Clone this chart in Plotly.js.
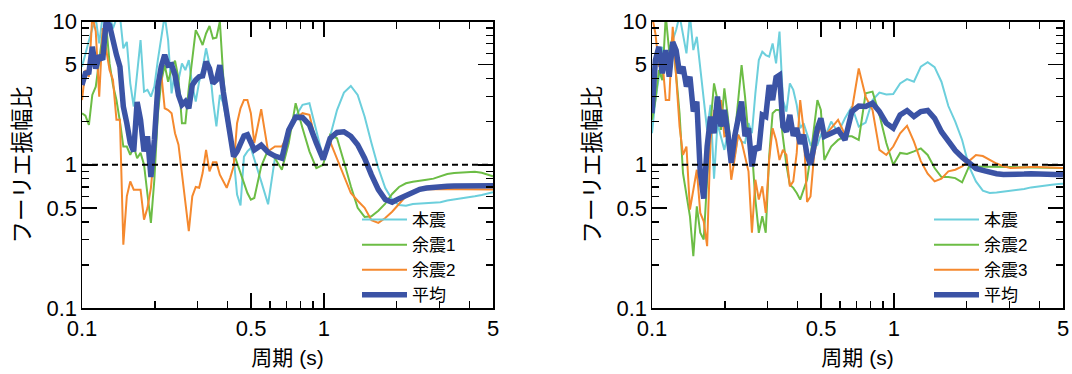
<!DOCTYPE html>
<html>
<head>
<meta charset="utf-8">
<script src="https://cdn.plot.ly/plotly-3.0.1.min.js"></script>
<style>html,body{margin:0;padding:0;background:#fff;}#chart{width:1072px;height:374px;}</style>
</head>
<body>
<div id="chart"></div>
<script>
// ---- data ----
const periods = [0.1, 0.1033, 0.1068, 0.1103, 0.114, 0.1178, 0.1218, 0.1258, 0.13, 0.1343, 0.1388, 0.1435, 0.1482, 0.1532, 0.1583, 0.1636, 0.169, 0.1746, 0.1805, 0.1865, 0.1927, 0.1991, 0.2058, 0.2126, 0.2197, 0.227, 0.2346, 0.2424, 0.2505, 0.2589, 0.2675, 0.2764, 0.2857, 0.2952, 0.305, 0.3152, 0.3257, 0.3366, 0.3478, 0.3594, 0.3714, 0.3837, 0.3965, 0.4098, 0.4234, 0.4375, 0.4521, 0.4672, 0.4828, 0.4989, 0.5155, 0.5505, 0.5878, 0.6277, 0.6702, 0.7156, 0.7641, 0.8159, 0.8712, 0.9303, 0.9935, 1.061, 1.133, 1.21, 1.292, 1.379, 1.473, 1.572, 1.679, 1.793, 1.914, 2.044, 2.183, 2.331, 2.489, 2.657, 2.837, 3.03, 3.235, 3.454, 3.689, 3.939, 4.206, 4.491, 4.795, 5.0];

// left panel
const leftMain = [4.84, 5.83, 7.34, 8.94, 10.5, 7.03, 11, 11, 11, 8.94, 10.5, 11, 6.5, 7.2, 3.7, 2.55, 4.35, 7.42, 3.24, 3.33, 2.99, 3.51, 5.38, 7.6, 11, 7.4, 3.15, 4.58, 3.9, 5.1, 4.58, 5.38, 3.6, 2.76, 3.8, 4.7, 6.5, 4.97, 2.83, 1.85, 3.07, 2.69, 2.0, 1.53, 1.14, 0.62, 0.52, 1.14, 1.24, 1.31, 1.08,
  0.765, 0.53, 1.12, 1.11, 1.66, 2.17, 2.62, 2.69, 1.75, 1.11, 1.58, 2.41, 3.19, 3.55, 3.07, 2.17, 1.42, 0.948, 0.688, 0.571, 0.523, 0.518, 0.532, 0.535, 0.535, 0.541, 0.547, 0.562, 0.571, 0.58, 0.586, 0.602, 0.614, 0.628, 0.642];
const leftAfter1 = [2.29, 2.2, 1.9, 3.07, 3.51, 5.53, 8.25, 9.7, 5.1, 3.6, 2.83, 2.0, 1.34, 1.34, 1.17, 1.34, 1.11, 1.21, 1.0, 0.62, 0.393, 0.786, 2.23, 3.8, 4.97, 3.8, 4.7, 5.33, 4.0, 1.95, 1.95, 3.42, 5.53, 8.71, 7.82, 6.85, 8.25, 9.3, 7.6, 7.7, 10, 4.12, 2.17, 1.45, 1.21, 1.03, 0.9, 0.745, 0.635, 0.571, 0.586,
  0.974, 1.27, 1.11, 0.923, 1.42, 2.69, 1.8, 1.24, 0.948, 1.0, 1.62, 1.53, 1.05, 0.707, 0.5, 0.432, 0.437, 0.478, 0.535, 0.625, 0.7, 0.742, 0.761, 0.778, 0.786, 0.8, 0.829, 0.861, 0.875, 0.884, 0.894, 0.894, 0.88, 0.852, 0.829];
const leftAfter2 = [2.83, 4.58, 4.12, 11, 8.5, 2.99, 9, 6.5, 4.58, 3.9, 2.06, 2.06, 0.277, 0.602, 0.765, 0.67, 0.67, 0.67, 0.414, 0.5, 0.69, 1.27, 3.9, 4.35, 2.48, 2.41, 2.29, 1.66, 1.38, 0.875, 0.571, 0.344, 0.602, 0.7, 0.69, 0.875, 1.27, 0.9, 1.04, 1.04, 0.852, 0.765, 0.69, 0.81, 0.974, 1.95, 2.48, 2.83, 2.83, 2.29, 1.42,
  2.44, 1.24, 1.34, 1.34, 1.66, 2.1, 2.29, 2.23, 1.42, 1.17, 1.45, 1.11, 0.83, 0.635, 0.561, 0.5, 0.41, 0.393, 0.425, 0.47, 0.532, 0.602, 0.642, 0.674, 0.677, 0.677, 0.675, 0.672, 0.67, 0.67, 0.67, 0.672, 0.672, 0.673, 0.673];
const leftMean = [3.6, 4.35, 4.42, 6.66, 4.7, 5.8, 5.4, 10, 9.4, 7.2, 5.85, 4.84, 2.55, 1.95, 1.42, 1.24, 2.74, 2.06, 1.24, 1.58, 0.82, 1.49, 3.51, 4.84, 5.85, 4.95, 5.0, 4.23, 3.07, 2.62, 2.76, 2.48, 3.6, 3.9, 4.12, 4.17, 5.24, 4.7, 3.7, 3.9, 4.97, 3.24, 2.17, 1.62, 1.14, 1.24, 1.42, 1.59, 1.62, 1.45, 1.27,
  1.37, 1.22, 1.15, 1.11, 1.75, 2.15, 2.14, 1.9, 1.42, 1.09, 1.53, 1.68, 1.7, 1.58, 1.38, 1.11, 0.85, 0.67, 0.571, 0.547, 0.58, 0.61, 0.652, 0.674, 0.688, 0.699, 0.703, 0.707, 0.71, 0.71, 0.714, 0.714, 0.714, 0.714, 0.714];

// right panel
const rightMain = [1.66, 2.83, 4.12, 6.66, 4.58, 5.38, 7.42, 8.71, 11, 8.25, 5.99, 11, 6.32, 7.82, 4.84, 2.99, 1.75, 2.62, 0.8, 1.95, 1.58, 1.27, 1.66, 1.42, 1.14, 1.62, 1.45, 1.42, 1.95, 1.66, 3.15, 5.38, 6.15, 5.83, 5.68, 7.03, 5.1, 8.5, 2.83, 2.35, 3.7, 3.33, 2.62, 1.8, 1.95, 1.62, 1.38, 1.45, 1.38, 1.62, 1.53,
  2.0, 1.68, 2.11, 2.55, 1.85, 1.97, 2.83, 3.19, 3.09, 3.12, 3.7, 3.96, 3.8, 4.84, 5.2, 4.8, 3.8, 2.57, 2.0, 1.49, 0.974, 0.765, 0.66, 0.635, 0.64, 0.65, 0.656, 0.663, 0.677, 0.695, 0.707, 0.718, 0.726, 0.734, 0.737];
const rightAfter2 = [2.06, 2.83, 4.58, 3.9, 11, 6.15, 7.82, 4.12, 2.29, 0.875, 0.635, 0.437, 0.23, 0.513, 0.335, 0.301, 0.786, 1.95, 3.7, 2.83, 1.75, 3.42, 2.17, 1.24, 1.58, 2.69, 4.97, 2.99, 1.58, 1.27, 0.571, 0.335, 0.437, 0.335, 1.14, 2.29, 2.41, 2.41, 1.58, 1.0, 0.726, 0.69, 0.635, 0.571, 0.67, 0.786, 1.14, 1.85, 2.83, 2.41, 1.08,
  1.34, 1.49, 1.58, 1.58, 1.49, 3.15, 3.24, 2.23, 1.42, 1.0, 1.21, 1.19, 1.24, 1.3, 1.17, 0.948, 0.82, 0.82, 0.807, 0.753, 0.974, 0.974, 0.974, 0.974, 0.97, 0.965, 0.963, 0.96, 0.958, 0.955, 0.953, 0.95, 0.95, 0.948, 0.948];
const rightAfter3 = [11, 8.25, 4.84, 5.38, 2.83, 2.83, 9.18, 4.35, 1.85, 1.17, 1.34, 0.486, 0.67, 0.923, 0.461, 0.403, 0.27, 1.49, 2.41, 2.29, 2.83, 1.58, 1.62, 0.786, 1.11, 1.62, 1.45, 1.14, 0.9, 0.335, 0.786, 0.571, 0.707, 0.461, 1.08, 1.8, 1.49, 1.08, 1.27, 1.17, 0.707, 0.765, 1.21, 2.83, 1.75, 0.55, 0.6, 1.14, 1.58, 1.85, 1.58,
  1.8, 2.06, 1.62, 2.41, 4.7, 2.99, 2.41, 1.27, 1.17, 1.34, 1.66, 1.87, 1.45, 1.06, 0.866, 0.765, 0.8, 0.9, 0.923, 0.974, 1.06, 1.17, 1.15, 1.08, 1.02, 0.974, 0.948, 0.953, 0.963, 0.963, 0.963, 0.958, 0.953, 0.948, 0.948];
const rightMean = [2.29, 5.38, 6.66, 4.35, 6.32, 4.12, 7.2, 6.3, 4.35, 4.84, 3.51, 4.12, 2.35, 2.76, 0.875, 0.58, 1.34, 2.17, 1.66, 2.99, 1.85, 2.41, 1.66, 1.03, 1.58, 2.0, 2.76, 1.58, 1.8, 0.974, 1.34, 1.27, 2.23, 2.17, 3.6, 2.83, 4.08, 4.23, 1.85, 1.7, 2.23, 1.59, 1.8, 1.4, 1.62, 1.17, 1.0, 1.34, 1.8, 2.11, 1.58,
  1.66, 1.75, 1.49, 2.35, 2.57, 2.55, 2.69, 2.35, 1.95, 1.8, 2.23, 2.39, 2.17, 2.35, 2.39, 2.11, 1.7, 1.45, 1.26, 1.13, 1.02, 0.943, 0.913, 0.884, 0.866, 0.856, 0.852, 0.856, 0.861, 0.866, 0.866, 0.861, 0.856, 0.852, 0.852];

const referenceLevel = 1;
const leftNames = ['本震', '余震1', '余震2', '平均'];
const rightNames = ['本震', '余震2', '余震3', '平均'];
const xTickVals = [0.1, 0.5, 1, 5];
const xTickText = ['0.1', '0.5', '1', '5'];
const xMinorVals = [0.2, 0.3, 0.4, 0.6, 0.7, 0.8, 0.9, 2, 3, 4];
const yTickVals = [0.1, 0.5, 1, 5, 10];
const yTickText = ['0.1', '0.5', '1', '5', '10'];
const yMinorVals = [0.2, 0.3, 0.4, 0.6, 0.7, 0.8, 0.9, 2, 3, 4, 6, 7, 8, 9];
const xTitle = '周期 (s)';
const yTitle = 'フーリエ振幅比';

// ---- style ----
const FONT = '"Liberation Sans", Arial, "Noto Sans CJK JP", sans-serif';
const COLORS = ['#6ccfdc', '#6cbd45', '#f5892e', '#3b53a5'];
const WIDTHS = [2, 2, 2, 5.5];

function seriesTraces(seriesList, names, xa, ya, yaRef, leg) {
  const out = [];
  for (let i = 0; i < 3; i++) {
    out.push({x: periods, y: seriesList[i], name: names[i], type: 'scatter', mode: 'lines',
      xaxis: xa, yaxis: ya, legend: leg, line: {color: COLORS[i], width: WIDTHS[i]}});
  }
  out.push({x: periods, y: seriesList[3], name: names[3], type: 'scatter', mode: 'lines',
    xaxis: xa, yaxis: ya, legend: leg, line: {color: COLORS[3], width: WIDTHS[3]}});
  // reference level (drawn on the overlaying label axis, same scale)
  out.push({x: [periods[0], periods[periods.length - 1]], y: [referenceLevel, referenceLevel],
    type: 'scatter', mode: 'lines', xaxis: xa, yaxis: yaRef, showlegend: false, hoverinfo: 'skip',
    line: {color: '#000', width: 2, dash: '6px,4px'}});
  return out;
}

const data = [].concat(
  seriesTraces([leftMain, leftAfter1, leftAfter2, leftMean], leftNames, 'x', 'y', 'y3', 'legend'),
  seriesTraces([rightMain, rightAfter2, rightAfter3, rightMean], rightNames, 'x2', 'y2', 'y4', 'legend2')
);

function xAxis(domain, anchor) {
  return {
    type: 'log', domain: domain, anchor: anchor, range: [-1, Math.log10(5)],
    tickmode: 'array', tickvals: xTickVals, ticktext: xTickText, ticks: 'inside', ticklen: 15, tickwidth: 1.5, tickcolor: '#000',
    minor: {tickmode: 'array', tickvals: xMinorVals, ticks: 'inside', ticklen: 7, tickwidth: 1.5, tickcolor: '#000', showgrid: false},
    showline: true, linecolor: '#000', linewidth: 1.5, mirror: 'ticks', showgrid: false, zeroline: false,
    tickfont: {family: FONT, size: 22, color: '#000'},
    title: {text: xTitle, font: {family: FONT, size: 21, color: '#000'}, standoff: 10}
  };
}
// y axis carrying the frame and ticks (no labels)
function yAxisTicks(domain, anchor) {
  return {
    type: 'log', domain: domain, anchor: anchor, range: [-1, 1],
    tickmode: 'array', tickvals: yTickVals, ticktext: yTickText, ticks: 'inside', ticklen: 15, tickwidth: 1.5, tickcolor: '#000',
    minor: {tickmode: 'array', tickvals: yMinorVals, ticks: 'inside', ticklen: 7, tickwidth: 1.5, tickcolor: '#000', showgrid: false},
    showline: true, linecolor: '#000', linewidth: 1.5, mirror: 'ticks', showgrid: false, zeroline: false,
    showticklabels: false
  };
}
// overlaying y axis (same scale) carrying labels and title
function yAxisLabels(overlay, anchor) {
  return {
    type: 'log', overlaying: overlay, anchor: anchor, side: 'left', range: [-1, 1],
    tickmode: 'array', tickvals: yTickVals, ticktext: yTickText, ticks: '',
    showline: false, showgrid: false, zeroline: false,
    tickfont: {family: FONT, size: 22, color: '#000'}, ticklabelstandoff: 4,
    title: {text: yTitle, font: {family: FONT, size: 22.5, color: '#000'}, standoff: 9}
  };
}

const yDom = [1 - 308 / 374, 1 - 21.5 / 374];
const legendBase = {xanchor: 'left', yanchor: 'top', bgcolor: 'rgba(0,0,0,0)', borderwidth: 0,
  font: {family: FONT, size: 17, color: '#000'}, itemwidth: 45, tracegroupgap: 0};

const layout = {
  width: 1072, height: 374,
  margin: {l: 0, r: 0, t: 0, b: 0},
  paper_bgcolor: '#ffffff', plot_bgcolor: '#ffffff',
  font: {family: FONT, size: 21, color: '#000'},
  showlegend: true,
  xaxis: xAxis([82 / 1072, 493 / 1072], 'y'),
  yaxis: yAxisTicks(yDom, 'x'),
  xaxis2: xAxis([652 / 1072, 1063 / 1072], 'y2'),
  yaxis2: yAxisTicks(yDom, 'x2'),
  yaxis3: yAxisLabels('y', 'x'),
  yaxis4: yAxisLabels('y2', 'x2'),
  legend: Object.assign({x: 357 / 1072, y: 1 - 202 / 374}, legendBase),
  legend2: Object.assign({x: 929 / 1072, y: 1 - 202 / 374}, legendBase)
};

Plotly.newPlot('chart', data, layout, {staticPlot: true, displayModeBar: false});
</script>
</body>
</html>
